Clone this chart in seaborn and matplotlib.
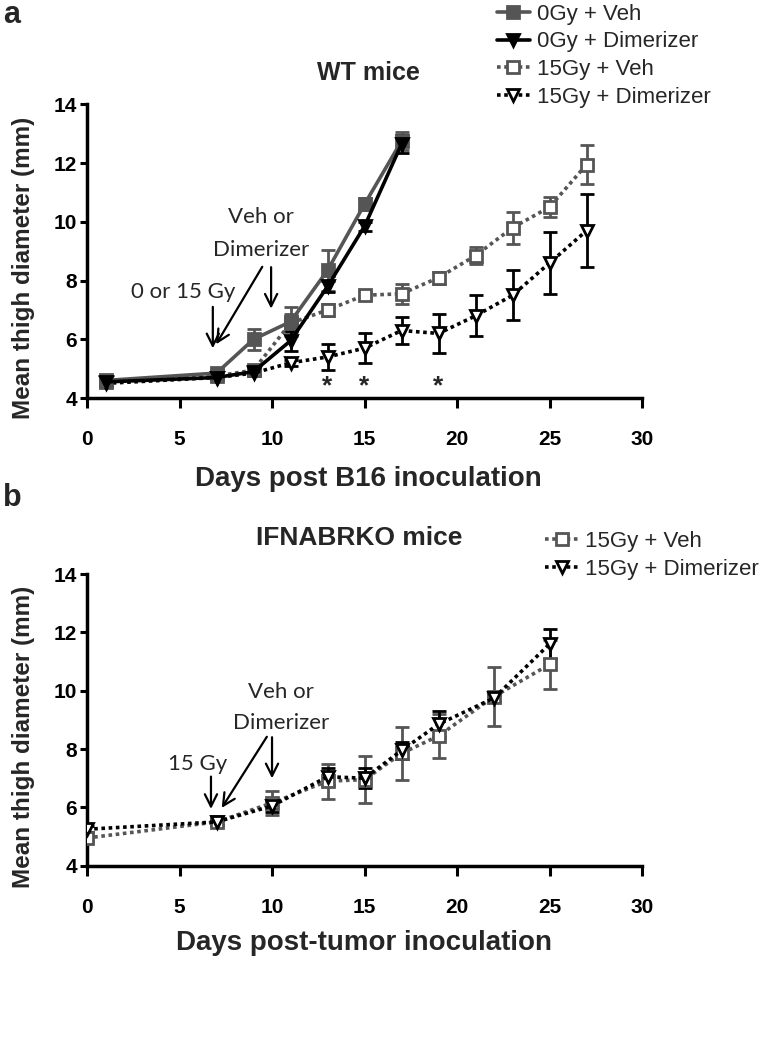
import pandas as pd
import seaborn as sns
import matplotlib.pyplot as plt

# panel a: WT mice
days_0gy = [1, 7, 9, 11, 13, 15, 17]
veh_0gy = [4.6, 4.85, 6.0, 6.6, 8.35, 10.6, 12.75]
veh_0gy_err = [0.1, 0.1, 0.35, 0.5, 0.7, 0.2, 0.3]
dim_0gy = [4.55, 4.7, 4.9, 5.95, 7.8, 9.85, 12.65]
dim_0gy_err = [0.1, 0.05, 0.1, 0.35, 0.2, 0.15, 0.3]

days_15gy = [1, 7, 9, 11, 13, 15, 17, 19, 21, 23, 25, 27]
veh_15gy = [4.55, 4.75, 4.95, 6.55, 7.0, 7.5, 7.55, 8.1, 8.85, 9.8, 10.5, 11.95]
veh_15gy_err = [0.1, 0.1, 0.1, 0.3, 0.2, 0.1, 0.35, 0.2, 0.3, 0.55, 0.35, 0.65]
dim_15gy = [4.5, 4.7, 4.85, 5.2, 5.4, 5.7, 6.3, 6.2, 6.8, 7.5, 8.6, 9.7]
dim_15gy_err = [0.1, 0.1, 0.1, 0.1, 0.45, 0.5, 0.45, 0.65, 0.7, 0.85, 1.05, 1.25]
star_days = [13, 15, 19]

# panel b: IFNABRKO mice
days_ko = [0, 7, 10, 13, 15, 17, 19, 22, 25]
veh_ko = [4.95, 5.5, 6.15, 6.9, 6.95, 7.85, 8.45, 9.8, 10.9]
veh_ko_err = [0.1, 0.1, 0.4, 0.6, 0.8, 0.9, 0.75, 1.0, 0.85]
dim_ko = [5.25, 5.5, 6.05, 7.05, 7.0, 7.95, 8.85, 9.75, 11.6]
dim_ko_err = [0.1, 0.1, 0.2, 0.3, 0.35, 0.3, 0.45, 0.1, 0.5]

labels_a = ['0Gy + Veh', '0Gy + Dimerizer', '15Gy + Veh', '15Gy + Dimerizer']
labels_b = ['15Gy + Veh', '15Gy + Dimerizer']

GRAY = '#555555'
DOT = (0, (1.0, 1.0))

sns.set_style('ticks')
plt.rcParams['font.family'] = ['Liberation Sans', 'DejaVu Sans']
BOLD_NUM = ['Liberation Sans Narrow', 'Liberation Sans']
NOTE = ['Lato', 'DejaVu Sans']


def draw(ax, x, y, err, color, marker, ls, filled, label):
    df = pd.DataFrame({'day': x, 'diam': y})
    ax.errorbar(x, y, yerr=err, fmt='none', ecolor=color, elinewidth=2,
                capsize=5, capthick=2, zorder=2, label='_nolegend_')
    sns.lineplot(data=df, x='day', y='diam', ax=ax, color=color, marker=marker,
                 linestyle=ls, linewidth=2.6, markersize=9,
                 markerfacecolor=color if filled else 'white',
                 markeredgecolor=color, markeredgewidth=2,
                 label=label, zorder=3, sort=False)


def style_axis(ax):
    ax.set_xlim(0, 30)
    ax.set_ylim(4, 14)
    ax.set_xticks(range(0, 31, 5))
    ax.set_yticks(range(4, 15, 2))
    sns.despine(ax=ax)
    for s in ['left', 'bottom']:
        ax.spines[s].set_linewidth(2.5)
        ax.spines[s].set_color('black')
    ax.tick_params(width=2.2, length=5, colors='black')
    ax.tick_params(axis='x', length=7, pad=16)
    ax.tick_params(axis='y', pad=2)
    for t in ax.get_xticklabels() + ax.get_yticklabels():
        t.set_family(BOLD_NUM)
        t.set_fontweight('bold')
        t.set_fontsize(15)
    ax.set_xlabel('')
    ax.set_ylabel('')


def arrow(ax, start, end):
    ax.annotate('', xy=end, xytext=start,
                arrowprops=dict(arrowstyle='->', lw=1.6, color='black',
                                mutation_scale=22))


def legend(ax, order, anchor):
    h, l = ax.get_legend_handles_labels()
    lookup = dict(zip(l, h))
    ax.legend([lookup[k] for k in order], order, loc='upper left',
              bbox_to_anchor=anchor, bbox_transform=fig.transFigure,
              frameon=False, fontsize=16, handlelength=1.5, handletextpad=0.3,
              labelspacing=0.3, borderaxespad=0)


fig = plt.figure(figsize=(7.72, 10.38), dpi=100)
ax_a = fig.add_axes([0.1127, 0.6165, 0.719, 0.283])
ax_b = fig.add_axes([0.1127, 0.166, 0.719, 0.281])

# panel a (irradiated groups first so the 0Gy markers sit on top)
draw(ax_a, days_15gy, veh_15gy, veh_15gy_err, GRAY, 's', DOT, False, labels_a[2])
draw(ax_a, days_15gy, dim_15gy, dim_15gy_err, 'black', 'v', DOT, False, labels_a[3])
draw(ax_a, days_0gy, veh_0gy, veh_0gy_err, GRAY, 's', '-', True, labels_a[0])
draw(ax_a, days_0gy, dim_0gy, dim_0gy_err, 'black', 'v', '-', True, labels_a[1])
style_axis(ax_a)
for d in star_days:
    ax_a.text(d, 4.4, '*', ha='center', va='center', fontsize=19, fontweight='bold')
ax_a.text(9.4, 10.15, 'Veh or', ha='center', va='center', fontsize=16, family=NOTE)
ax_a.text(9.4, 9.05, 'Dimerizer', ha='center', va='center', fontsize=16, family=NOTE)
ax_a.text(5.2, 7.6, '0 or 15 Gy', ha='center', va='center', fontsize=16, family=NOTE)
arrow(ax_a, (6.8, 7.2), (6.8, 5.6))
arrow(ax_a, (9.55, 8.55), (6.9, 5.75))
arrow(ax_a, (9.95, 8.55), (9.95, 6.95))
legend(ax_a, labels_a, (0.632, 1.005))

# panel b
draw(ax_b, days_ko, veh_ko, veh_ko_err, GRAY, 's', DOT, False, labels_b[0])
draw(ax_b, days_ko, dim_ko, dim_ko_err, 'black', 'v', DOT, False, labels_b[1])
style_axis(ax_b)
ax_b.text(10.5, 9.95, 'Veh or', ha='center', va='center', fontsize=16, family=NOTE)
ax_b.text(10.5, 8.9, 'Dimerizer', ha='center', va='center', fontsize=16, family=NOTE)
ax_b.text(6.0, 7.5, '15 Gy', ha='center', va='center', fontsize=16, family=NOTE)
arrow(ax_b, (6.7, 7.15), (6.7, 5.85))
arrow(ax_b, (9.8, 8.5), (7.2, 5.9))
arrow(ax_b, (10.0, 8.5), (10.0, 6.9))
legend(ax_b, labels_b, (0.695, 0.497))

# panel letters, titles and axis labels
fig.text(0.004, 1.0, 'a', fontsize=22, fontweight='bold', va='top')
fig.text(0.004, 0.535, 'b', fontsize=22, fontweight='bold', va='top')
fig.text(0.477, 0.93, 'WT mice', fontsize=18, fontweight='bold', ha='center', va='center')
fig.text(0.465, 0.482, 'IFNABRKO mice', fontsize=19, fontweight='bold', ha='center', va='center')
for ax in (ax_a, ax_b):
    pos = ax.get_position()
    fig.text(0.03, pos.y0 + pos.height / 2 - 0.016, 'Mean thigh diameter (mm)', rotation=90,
             fontsize=17.5, fontweight='bold', ha='center', va='center')
fig.text(0.477, 0.539, 'Days post B16 inoculation', fontsize=20, fontweight='bold',
         ha='center', va='center')
fig.text(0.472, 0.092, 'Days post-tumor inoculation', fontsize=20, fontweight='bold',
         ha='center', va='center')

fig.savefig('out.png', dpi=100)
